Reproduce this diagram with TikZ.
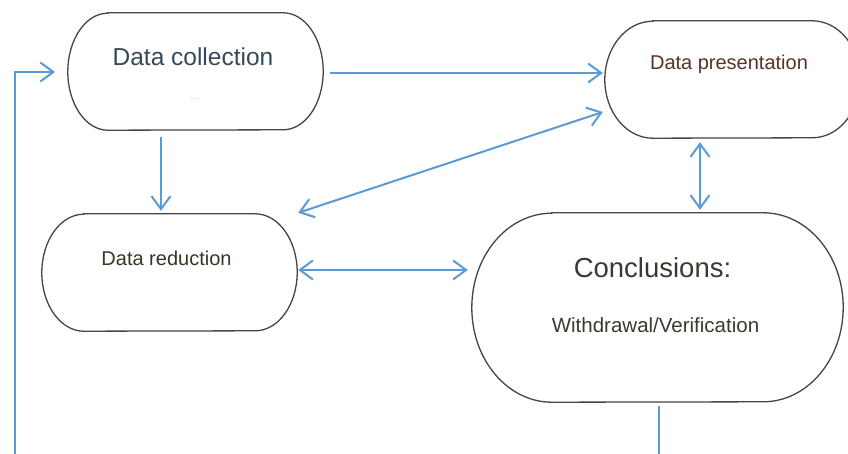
\documentclass[tikz,border=0pt]{standalone}
\usepackage{fontspec}
\setmainfont{Liberation Sans}
\usetikzlibrary{arrows.meta}
\definecolor{arrowblue}{HTML}{5B9BD5}
\definecolor{boxgray}{HTML}{454545}
\definecolor{dctext}{HTML}{35495A}
\definecolor{dptext}{HTML}{5A3028}
\definecolor{drtext}{HTML}{3C3424}
\definecolor{cctext}{HTML}{3A3A32}
\newcommand\drawstadium[3]{%
  \draw[boxline] ([xshift=#2]#1.north west) -- ([xshift=-#2]#1.north east)
    arc[start angle=90,end angle=-90,x radius=#2,y radius=#3]
    -- ([xshift=#2]#1.south west)
    arc[start angle=270,end angle=90,x radius=#2,y radius=#3] -- cycle;}
\tikzset{
  boxline/.style={draw=boxgray,line width=1.3pt},
  shapebox/.style={inner sep=0pt,minimum width=#1},
  arr/.style={draw=arrowblue,line width=2pt,-{Straight Barb[length=13pt,width=19pt,line width=2pt]}},
  darr/.style={draw=arrowblue,line width=2pt,{Straight Barb[length=13pt,width=19pt,line width=2pt]}-{Straight Barb[length=13pt,width=19pt,line width=2pt]}},
  plain/.style={draw=arrowblue,line width=2pt},
  lbl/.style={inner sep=0pt,anchor=center}
}
\begin{document}
\begin{tikzpicture}[x=1pt,y=-1pt]
\useasboundingbox (0,0) rectangle (848,454);
\clip (0,0) rectangle (848,454);
\fill[white] (0,0) rectangle (848,454);
% shapes
\node[shapebox=255pt,minimum height=117pt] (dc) at (195.5,71.5) {};
\node[shapebox=255pt,minimum height=117pt] (dp) at (732.5,79.5) {};
\node[shapebox=255pt,minimum height=117pt] (dr) at (169.5,272.5) {};
\node[shapebox=371pt,minimum height=189pt] (cc) at (657.5,307.5) {};
\drawstadium{dc}{40pt}{58.5pt}
\drawstadium{dp}{48pt}{58.5pt}
\drawstadium{dr}{42pt}{58.5pt}
\drawstadium{cc}{80pt}{94.5pt}
% texts
\node[lbl,text=dctext,font=\fontsize{24.5}{27}\selectfont] (dct) at ([xshift=-2.5pt,yshift=14.5pt]dc.center) {Data collection};
\node[lbl,text=gray!35,font=\fontsize{10}{11}\selectfont] (dcdots) at ([yshift=-27pt]dc.center) {....};
\node[lbl,text=dptext,font=\fontsize{20}{22}\selectfont] (dpt) at ([xshift=-3.5pt,yshift=15pt]dp.center) {Data presentation};
\node[lbl,text=drtext,font=\fontsize{20}{22}\selectfont] (drt) at ([xshift=-3pt,yshift=14pt]dr.center) {Data reduction};
\node[lbl,text=cctext,font=\fontsize{27.5}{30}\selectfont] (cct) at ([xshift=-5pt,yshift=40pt]cc.center) {Conclusions:};
\node[lbl,text=cctext,font=\fontsize{20.5}{22}\selectfont] (ccw) at ([xshift=-2pt,yshift=-17.5pt]cc.center) {Withdrawal/Verification};
% connectors
\coordinate (fbbot) at (15,460);
\coordinate (fbtip) at (55,72);
\coordinate (ccbot) at (659,460);
\draw[arr] (fbbot) |- (fbtip);
\draw[arr] ([xshift=7pt,yshift=-1.5pt]dc.east) -- ([xshift=-2pt,yshift=6.5pt]dp.west);
\draw[arr] ([xshift=-34.5pt,yshift=-7pt]dc.south) -- ([xshift=-8.5pt,yshift=3pt]dr.north);
\draw[darr] ([xshift=-2pt,yshift=-32.5pt]dp.west) -- ([xshift=1pt,yshift=1pt]dr.north east);
\draw[darr] ([xshift=-32.5pt,yshift=-4pt]dp.south) -- ([xshift=42.5pt,yshift=3pt]cc.north);
\draw[darr] ([xshift=1pt,yshift=2.5pt]dr.east) -- ([xshift=-4pt,yshift=37.5pt]cc.west);
\draw[plain] ([xshift=1.5pt,yshift=-4pt]cc.south) -- (ccbot);
\end{tikzpicture}
\end{document}
